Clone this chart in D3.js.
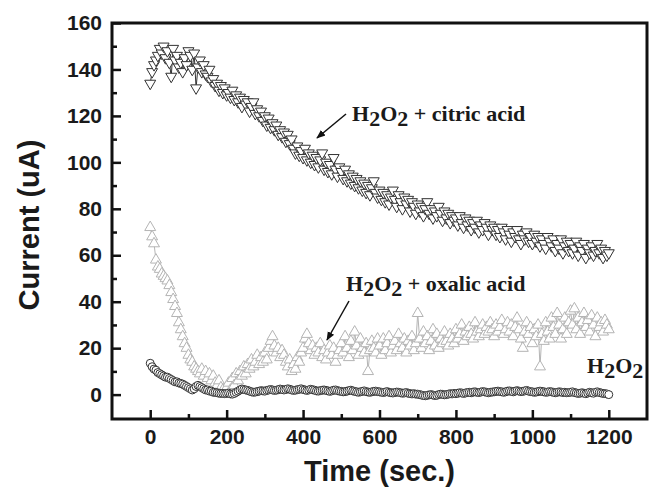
<!DOCTYPE html>
<html>
<head>
<meta charset="utf-8">
<script src="https://cdn.jsdelivr.net/npm/d3@7"></script>
<style>
  html, body { margin: 0; padding: 0; background: #fff; }
  svg { display: block; }
</style>
</head>
<body>
<svg id="chart" width="650" height="492"></svg>
<script>
// ---------- DATA ----------
const times = [
0,5,10,15,20,25,30,35,40,45,50,55,60,65,70,75,80,85,90,95,
100,105,110,115,120,125,130,135,140,145,150,155,160,165,170,175,180,185,190,195,
200,205,210,215,220,225,230,235,240,245,250,255,260,265,270,275,280,285,290,295,
300,305,310,315,320,325,330,335,340,345,350,355,360,365,370,375,380,385,390,395,
400,405,410,415,420,425,430,435,440,445,450,455,460,465,470,475,480,485,490,495,
500,505,510,515,520,525,530,535,540,545,550,555,560,565,570,575,580,585,590,595,
600,605,610,615,620,625,630,635,640,645,650,655,660,665,670,675,680,685,690,695,
700,705,710,715,720,725,730,735,740,745,750,755,760,765,770,775,780,785,790,795,
800,805,810,815,820,825,830,835,840,845,850,855,860,865,870,875,880,885,890,895,
900,905,910,915,920,925,930,935,940,945,950,955,960,965,970,975,980,985,990,995,
1000,1005,1010,1015,1020,1025,1030,1035,1040,1045,1050,1055,1060,1065,1070,1075,1080,1085,1090,1095,
1100,1105,1110,1115,1120,1125,1130,1135,1140,1145,1150,1155,1160,1165,1170,1175,1180,1185,1190,1195,
1200];

const citric = [
134,139,142,144,146,149,147,150,145,148,143,137,149,144,146,141,143,139,145,142,
148,146,140,147,132,141,144,139,142,138,137,140,135,136,133,134,131,133,130,132,
129,130,128,131,127,129,126,128,124,127,125,126,122,124,126,121,123,120,122,118,
120,116,119,115,117,114,116,112,114,111,113,109,112,108,110,106,104,107,103,105,
102,106,101,104,100,103,99,102,98,101,104,97,100,96,99,95,102,97,94,98,
96,93,97,92,95,91,94,90,93,89,92,88,91,87,90,86,89,92,87,85,
88,84,87,83,86,82,85,88,84,81,86,83,80,85,82,84,79,83,81,78,
82,79,81,77,80,83,78,80,76,79,77,81,78,75,79,76,78,74,77,75,
76,73,77,74,72,76,73,75,71,74,72,75,70,73,71,74,72,69,73,71,
72,69,71,68,72,70,67,71,69,66,70,68,71,67,65,69,67,70,66,68,
65,69,66,68,64,67,65,63,68,66,64,67,62,65,63,67,61,64,66,62,
65,61,63,66,60,64,62,65,59,63,61,64,60,62,65,61,63,59,62,60,
61];

const oxalic = [
72,68,65,58,55,54,52,51,50,49,47,44,41,38,35,31,28,25,22,20,
17,15,14,12,11,10,9,11,8,10,7,9,6,8,5,4,6,3,2,1,
3,5,2,7,4,9,6,10,8,12,9,13,11,15,12,14,17,13,16,14,
18,15,20,23,25,21,18,20,16,19,17,14,12,15,10,13,11,16,14,18,
20,24,26,22,19,21,17,20,18,22,16,19,15,18,21,17,20,14,17,19,
22,18,25,20,16,23,19,27,21,17,24,20,18,22,10,19,23,20,18,24,
21,17,24,19,22,25,18,21,23,19,26,22,20,24,18,23,21,25,19,22,
35,24,20,27,22,25,19,23,28,21,26,20,24,22,27,23,21,26,24,22,
28,24,26,30,23,27,25,29,26,24,31,27,25,28,30,26,29,27,31,28,
25,30,27,29,32,26,28,31,27,30,25,29,33,28,24,20,27,31,26,29,
22,28,25,30,12,26,23,31,27,24,33,29,26,35,30,24,28,33,26,31,
36,30,37,28,33,26,31,35,29,32,27,34,30,25,33,29,31,27,32,30,
28];

const h2o2 = [
13.5,12,11,10.5,9.5,9,8.5,8,7.5,7.5,7,6.5,6,5.5,5.5,5,4.8,4.5,4,3.5,
3,2.5,2,2.5,3.5,4,3.5,3,2.5,2,2,1.5,1.5,1,1,0.8,0.6,0.5,0.5,0.4,
0.5,0.6,0.3,0.2,0.5,1,1.5,2,2.4,2.2,2,1.8,1.5,1.2,1,1.1,1.3,1.5,1.7,1.6,
1.5,1.8,2,2.2,2,1.8,1.9,2.1,2.4,2.2,2,2.2,2.5,2.3,2,1.8,1.9,2.1,2.3,2.5,
2.2,2,1.8,2,2.3,2.1,1.9,1.6,1.5,1.7,1.9,2,1.8,1.6,1.4,1.6,1.9,2,1.7,1.5,
1.4,1.2,1.3,1.5,1.7,1.9,1.6,1.4,1.2,1,1.2,1.4,1.6,1.3,1.1,1,1.2,1.4,1.5,1.3,
1.2,1,0.9,1.1,1.3,1,0.8,0.7,0.9,1.1,1,0.8,0.6,0.7,0.9,0.6,0.4,0.3,0.4,0.2,
0.2,0,-0.2,-0.4,-0.5,-0.3,-0.1,0,-0.2,-0.4,-0.3,0,0.2,0.1,-0.1,0,0.2,0.4,0.3,0.5,
0.4,0.6,0.8,0.7,0.5,0.7,0.9,1,0.8,1.1,1.2,1,0.9,1.1,1.3,1.2,1,0.8,1,1.1,
1.2,1.4,1.5,1.3,1.2,1,1.2,1.5,1.6,1.4,1.2,1.5,1.7,1.5,1.3,1.4,1.6,1.8,1.5,1.3,
1.2,1,1.1,1.3,1.5,1.4,1.2,1,1.1,1.3,1.2,1,0.8,1,1.2,1.1,0.9,1,0.8,0.9,
1,1.2,0.9,0.7,0.5,0.6,0.8,0.6,0.4,0.7,1,0.8,0.6,1,1.2,0.9,0.7,0.5,0.4,0.3,
0];

const xTicks = [0,200,400,600,800,1000,1200];
const xMinor = [100,300,500,700,900,1100];
const yTicks = [0,20,40,60,80,100,120,140,160];
const yMinor = [10,30,50,70,90,110,130,150];

// ---------- LAYOUT ----------
const svg = d3.select("#chart");
const L = 112, R = 647, T = 23, B = 419;
const x = d3.scaleLinear().domain([-100, 1300]).range([L, R]);
const y = d3.scaleLinear().domain([-10.5, 160]).range([B, T]);

const tickFont = "'Liberation Sans', Arial, sans-serif";
const fmt = d3.format("d");

const gx = svg.append("g").attr("transform", `translate(0,${B})`)
  .call(d3.axisBottom(x).tickValues(xTicks).tickFormat(fmt).tickSizeInner(-9).tickSizeOuter(0).tickPadding(10));
const gxm = svg.append("g").attr("transform", `translate(0,${B})`)
  .call(d3.axisBottom(x).tickValues(xMinor).tickSizeInner(-5).tickSizeOuter(0).tickFormat(""));
const gy = svg.append("g").attr("transform", `translate(${L},0)`)
  .call(d3.axisLeft(y).tickValues(yTicks).tickFormat(fmt).tickSizeInner(-9).tickSizeOuter(0).tickPadding(10));
const gym = svg.append("g").attr("transform", `translate(${L},0)`)
  .call(d3.axisLeft(y).tickValues(yMinor).tickSizeInner(-5).tickSizeOuter(0).tickFormat(""));

[gx, gxm, gy, gym].forEach(g => {
  g.select(".domain").remove();
  g.selectAll(".tick line").attr("stroke", "#111").attr("stroke-width", 2.5);
  g.selectAll(".tick text").attr("fill", "#1a1a1a")
    .style("font-family", tickFont).style("font-weight", "bold").style("font-size", "21px");
});

svg.append("rect").attr("x", L).attr("y", T).attr("width", R - L).attr("height", B - T)
  .attr("fill", "none").attr("stroke", "#111").attr("stroke-width", 3);

// ---------- SERIES ----------
const plot = svg.append("g");
function series(vals, color, symbolType, size, rotate) {
  const pts = times.map((t, i) => [x(t), y(vals[i])]);
  plot.append("path").attr("d", d3.line()(pts))
    .attr("fill", "none").attr("stroke", color).attr("stroke-width", 1);
  const sym = d3.symbol().type(symbolType).size(size);
  plot.append("g").selectAll("path").data(pts).join("path")
    .attr("d", sym)
    .attr("transform", d => `translate(${d[0]},${d[1]})${rotate ? " rotate(180)" : ""}`)
    .attr("fill", "#fff").attr("stroke", color).attr("stroke-width", 1);
}
series(oxalic, "#b4b4b4", d3.symbolTriangle, 52, false);
series(h2o2, "#333333", d3.symbolCircle, 50, false);
series(citric, "#333333", d3.symbolTriangle, 52, true);

// ---------- ANNOTATIONS ----------
const serif = "'Liberation Serif', 'Times New Roman', serif";
function chemLabel(xp, yp, rest) {
  const t = svg.append("text").attr("x", xp).attr("y", yp)
    .style("font-family", serif).style("font-weight", "bold").style("font-size", "22px")
    .attr("fill", "#1a1a1a");
  t.append("tspan").text("H");
  t.append("tspan").attr("dy", 5).text("2");
  t.append("tspan").attr("dy", -5).text("O");
  t.append("tspan").attr("dy", 5).text("2");
  if (rest) t.append("tspan").attr("dy", -5).text(rest);
}
chemLabel(352, 121, " + citric acid");
chemLabel(346, 291, " + oxalic acid");
chemLabel(587, 373, null);

svg.append("defs").append("marker").attr("id", "ah")
  .attr("viewBox", "0 0 10 10").attr("refX", 9).attr("refY", 5)
  .attr("markerWidth", 9).attr("markerHeight", 9).attr("markerUnits", "userSpaceOnUse")
  .attr("orient", "auto")
  .append("path").attr("d", "M0,1 L10,5 L0,9 Z").attr("fill", "#111");

svg.append("line").attr("x1", 346).attr("y1", 114).attr("x2", 317).attr("y2", 138)
  .attr("stroke", "#111").attr("stroke-width", 1.5).attr("marker-end", "url(#ah)");
svg.append("line").attr("x1", 349).attr("y1", 301).attr("x2", 327).attr("y2", 340)
  .attr("stroke", "#111").attr("stroke-width", 1.5).attr("marker-end", "url(#ah)");

// ---------- TITLES ----------
svg.append("text").attr("x", (L + R) / 2).attr("y", 481).attr("text-anchor", "middle")
  .style("font-family", tickFont).style("font-weight", "bold").style("font-size", "29px")
  .attr("fill", "#1a1a1a").text("Time (sec.)");
svg.append("text").attr("transform", `translate(39,${(T + B) / 2 + 4}) rotate(-90)`)
  .attr("text-anchor", "middle")
  .style("font-family", tickFont).style("font-weight", "bold").style("font-size", "29px")
  .attr("fill", "#1a1a1a").text("Current (uA)");
</script>
</body>
</html>
